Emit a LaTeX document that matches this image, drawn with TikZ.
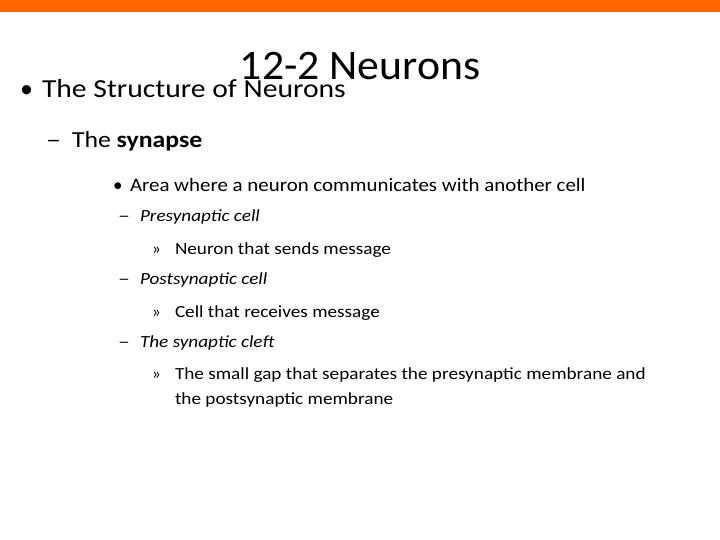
\documentclass[tikz,border=0pt]{standalone}
\usepackage{fontspec}
\setmainfont{Carlito}
\definecolor{barorange}{HTML}{FF6600}
\newcommand{\hsx}[2]{\scalebox{#1}[1]{#2}}
\begin{document}
\begin{tikzpicture}[x=1pt,y=1pt,
  txt/.style={anchor=base west,inner sep=0pt,outer sep=0pt},
  l1/.style={txt,font=\fontsize{26}{30}\selectfont},
  l2/.style={txt,font=\fontsize{23}{27}\selectfont},
  l3/.style={txt,font=\fontsize{19}{23}\selectfont},
  l4/.style={txt,font=\fontsize{17}{21}\selectfont}]
\useasboundingbox (0,0) rectangle (720,540);
\fill[white] (0,0) rectangle (720,540);
\fill[barorange] (0,528) rectangle (720,540);
\node[txt,anchor=base,font=\fontsize{42}{48}\selectfont] (title) at (360,460) {\hsx{1.04}{12-2 Neurons}};
\node[l1] (b1) at (20,442) {•};
\node[l1] (t1) at (42,442) {\hsx{1.14}{The Structure of Neurons}};
\node[l2] (b2) at (46,392) {\hsx{1.3}{–}};
\node[l2] (t2) at (72,392) {\hsx{1.12}{The \textbf{synapse}}};
\node[l3] (b3) at (113,348) {•};
\node[l3] (t3) at (130,348) {\hsx{1.1}{Area where a neuron communicates with another cell}};
\node[l4] (d1) at (118,318) {\hsx{1.4}{–}};
\node[l4] (e1) at (140,318) {\hsx{1.13}{\itshape Presynaptic cell}};
\node[l4] (r1) at (152,285) {»};
\node[l4] (f1) at (175,285) {\hsx{1.13}{Neuron that sends message}};
\node[l4] (d2) at (118,255) {\hsx{1.4}{–}};
\node[l4] (e2) at (140,255) {\hsx{1.13}{\itshape Postsynaptic cell}};
\node[l4] (r2) at (152,222) {»};
\node[l4] (f2) at (175,222) {\hsx{1.13}{Cell that receives message}};
\node[l4] (d3) at (118,192) {\hsx{1.4}{–}};
\node[l4] (e3) at (140,192) {\hsx{1.13}{\itshape The synaptic cleft}};
\node[l4] (r3) at (152,160) {»};
\node[l4] (f3) at (175,160) {\hsx{1.13}{The small gap that separates the presynaptic membrane and}};
\node[l4] (f4) at (175,135) {\hsx{1.13}{the postsynaptic membrane}};
\end{tikzpicture}
\end{document}
